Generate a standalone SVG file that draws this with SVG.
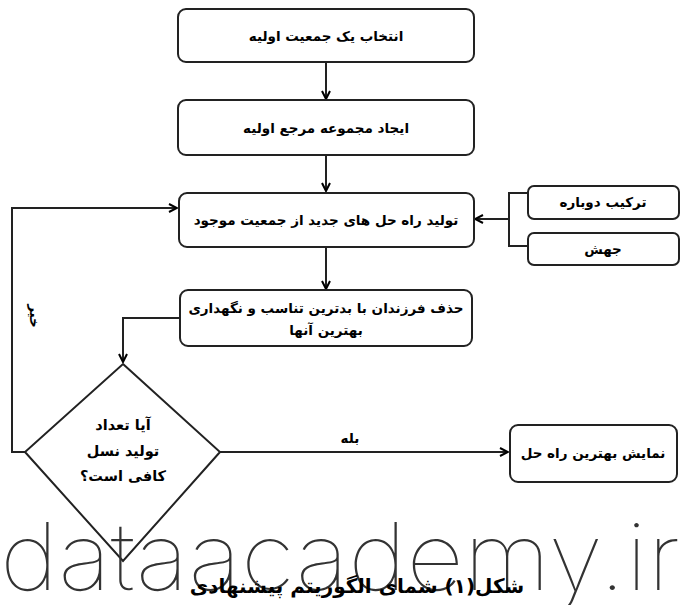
<svg xmlns="http://www.w3.org/2000/svg" width="691" height="605" viewBox="0 0 691 605">
<defs>
<marker id="ah" markerWidth="10" markerHeight="10" refX="9" refY="5" orient="auto" markerUnits="userSpaceOnUse">
<path d="M1,1 L9,5 L1,9" fill="none" stroke="#000" stroke-width="2"/>
</marker>
<style>
.box{fill:#fff;stroke:#222;stroke-width:2}
.c{fill:none;stroke:#222;stroke-width:2}
.t{font-family:"DejaVu Sans",sans-serif;font-weight:bold;font-size:13.5px;fill:#000;text-anchor:middle;direction:rtl}
</style>
</defs>
<rect width="691" height="605" fill="#fff"/>
<g id="connectors">
<path class="c" d="M326,63 V99" marker-end="url(#ah)"/>
<path class="c" d="M326,156 V191" marker-end="url(#ah)"/>
<path class="c" d="M326,248 V289" marker-end="url(#ah)"/>
<path class="c" d="M180,318 H123 V362" marker-end="url(#ah)"/>
<path class="c" d="M25,452 H12 V208 H177" marker-end="url(#ah)"/>
<path class="c" d="M220,452 H508" marker-end="url(#ah)"/>
<path class="c" d="M528,193 H509 V246 H528"/>
<path class="c" d="M509,219 H475" marker-end="url(#ah)"/>
<text class="t" x="350" y="443">بله</text>
<text class="t" x="0" y="0" transform="translate(30,316) rotate(90)">خیر</text>
</g>
<g id="n1">
<rect class="box" x="178" y="9" width="296" height="53" rx="8"/>
<text class="t" x="326" y="41">انتخاب یک جمعیت اولیه</text>
</g>
<g id="n2">
<rect class="box" x="178" y="100" width="296" height="55" rx="8"/>
<text class="t" x="326" y="133">ایجاد مجموعه مرجع اولیه</text>
</g>
<g id="n3">
<rect class="box" x="179" y="193" width="295" height="54" rx="8"/>
<text class="t" x="326" y="225">تولید راه حل های جدید از جمعیت موجود</text>
</g>
<g id="n3a">
<rect class="box" x="528" y="186" width="151" height="33" rx="6"/>
<text class="t" x="603" y="207">ترکیب دوباره</text>
</g>
<g id="n3b">
<rect class="box" x="528" y="233" width="151" height="32" rx="6"/>
<text class="t" x="603" y="254">جهش</text>
</g>
<g id="n4">
<rect class="box" x="180" y="290" width="292" height="56" rx="8"/>
<text class="t" x="326" y="313">حذف فرزندان با بدترین تناسب و نگهداری</text>
<text class="t" x="326" y="335">بهترین آنها</text>
</g>
<g id="n5">
<path class="c" d="M123,364 L220,452 L123,561 L25,452 Z" fill="#fff"/>
<text class="t" x="123" y="430" style="font-size:14.5px">آیا تعداد</text>
<text class="t" x="123" y="456" style="font-size:14.5px">تولید نسل</text>
<text class="t" x="123" y="481" style="font-size:14.5px">کافی است؟</text>
</g>
<g id="n6">
<rect class="box" x="510" y="425" width="167" height="57" rx="8"/>
<text class="t" x="593" y="458">نمایش بهترین راه حل</text>
</g>
<g id="watermark">
<text x="340" y="590" font-family="Inter,'Open Sans',sans-serif" font-weight="100" font-size="94" fill="#333" text-anchor="middle" textLength="680" lengthAdjust="spacingAndGlyphs">dataacademy.ir</text>
</g>
<g id="caption">
<text x="357" y="593" font-family="'DejaVu Sans',sans-serif" font-weight="bold" font-size="20" fill="#000" text-anchor="middle" direction="rtl">شکل(۱) شمای الگوریتم پیشنهادی</text>
</g>
</svg>
